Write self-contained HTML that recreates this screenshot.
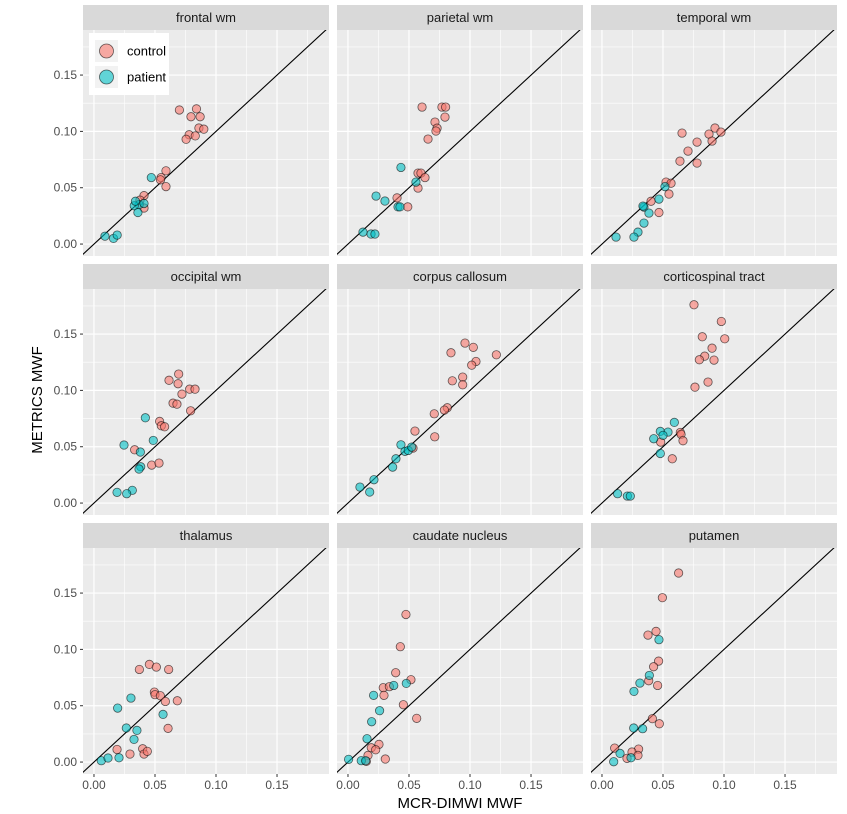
<!DOCTYPE html>
<html><head><meta charset="utf-8"><style>
html,body{margin:0;padding:0;background:#fff;}
svg{display:block;font-family:"Liberation Sans",Arial,sans-serif;}
</style></head><body>
<svg id="chart" width="847" height="814" viewBox="0 0 847 814" xmlns="http://www.w3.org/2000/svg">
<text x="460" y="808" text-anchor="middle" font-size="15" fill="#000">MCR-DIMWI MWF</text>
<text transform="translate(42,400) rotate(-90)" text-anchor="middle" font-size="15" fill="#000">METRICS MWF</text>
</svg>
<script>
const regions = ["frontal wm","parietal wm","temporal wm","occipital wm","corpus callosum","corticospinal tract","thalamus","caudate nucleus","putamen"];
const xTicks = [0,0.05,0.10,0.15];
const xTickLabels = ["0.00","0.05","0.10","0.15"];
const yTicks = [0,0.05,0.10,0.15];
const yTickLabels = ["0.00","0.05","0.10","0.15"];
const groups = ["control","patient"];
const controlX = [
[.070,.084,.0795,.087,.086,.090,.078,.0755,.083,.059,.055,.0545,.059,.041,.041,.0377],
[.0607,.077,.080,.0795,.0713,.073,.0721,.0656,.0574,.0598,.0631,.0574,.0402,.049],
[.0656,.0926,.0877,.0975,.0902,.0779,.0705,.0639,.0779,.0525,.0566,.0549,.0402,.0467],
[.0694,.0615,.0689,.0784,.0828,.0721,.0648,.068,.0792,.0538,.0552,.0579,.0333,.0473,.0533],
[.0959,.1027,.0844,.1216,.1049,.1014,.094,.0855,.094,.0814,.079,.0707,.0549,.0711,.0533],
[.0754,.0978,.0822,.1006,.0902,.0842,.0798,.0918,.0869,.0762,.0642,.0648,.0664,.0481,.0576],
[.0372,.0454,.0511,.0612,.0495,.05,.0544,.0585,.0683,.0607,.0189,.0295,.0399,.041,.0437],
[.0475,.0429,.0391,.0516,.0289,.0339,.0295,.0454,.0563,.0254,.0191,.0227,.0164,.0306,.015],
[.0628,.0495,.0443,.0377,.0464,.0423,.0383,.0456,.0413,.047,.0104,.03,.0246,.0205,.0295]
];
const controlY = [
[.119,.120,.113,.113,.103,.102,.097,.093,.096,.065,.059,.057,.051,.043,.032,.039],
[.1216,.1216,.1216,.1127,.1083,.1029,.1003,.0932,.063,.063,.059,.0497,.041,.033],
[.0985,.103,.0976,.0994,.0914,.0905,.0825,.0736,.0719,.055,.054,.0444,.038,.028],
[.1145,.109,.1059,.1011,.1011,.0967,.0887,.0878,.0819,.0725,.0686,.0677,.0473,.0337,.0355],
[.142,.1382,.1334,.1316,.1257,.1224,.1118,.1085,.105,.0846,.0825,.0792,.0639,.0588,.0488],
[.176,.1612,.1476,.1458,.1375,.1304,.1272,.1269,.1074,.1029,.0627,.061,.0553,.0541,.0393],
[.0822,.0867,.0843,.0822,.0621,.0598,.0589,.0538,.0544,.0299,.0112,.0071,.0118,.0071,.0095],
[.131,.1024,.0793,.0731,.066,.0669,.0592,.0509,.0388,.0157,.0127,.0109,.0059,.0027,.0006],
[.1678,.1459,.116,.1127,.0896,.0846,.0722,.068,.0385,.034,.0124,.0115,.0089,.0033,.0059]
];
const patientX = [
[.047,.037,.033,.036,.041,.034,.009,.016,.019],
[.0434,.023,.0303,.041,.0426,.0123,.0189,.0221,.0557],
[.0516,.0467,.0344,.0385,.0344,.0295,.0262,.0115,.0336],
[.0421,.0246,.0486,.038,.0383,.0369,.0314,.0189,.0268],
[.0434,.0467,.0494,.0522,.0393,.0366,.0213,.0098,.0178],
[.0593,.0478,.0541,.05,.0424,.0478,.0128,.0208,.0232],
[.0303,.0194,.0566,.0265,.0352,.0328,.006,.0115,.0205],
[.0375,.0478,.021,.0259,.0194,.0156,.0005,.0109,.0145],
[.0467,.0388,.0311,.0262,.026,.0333,.0148,.0238,.0096]
];
const patientY = [
[.059,.035,.034,.028,.036,.038,.007,.005,.008],
[.068,.0426,.0382,.033,.033,.0106,.0089,.0089,.055],
[.051,.0399,.0328,.0275,.0186,.0106,.0062,.0062,.0337],
[.0757,.0515,.0556,.0453,.0322,.0302,.0113,.0095,.0083],
[.0517,.0459,.0467,.0497,.0393,.0319,.0207,.0142,.0098],
[.0716,.0636,.063,.0601,.0571,.044,.0083,.0062,.0062],
[.0568,.0479,.0423,.0302,.0281,.0201,.0012,.0036,.0038],
[.068,.0698,.0592,.0456,.0358,.0207,.0024,.0012,.0012],
[.1086,.0769,.0701,.0627,.0302,.0296,.0077,.0038,.0003]
];

const NS="http://www.w3.org/2000/svg";
const svg=document.getElementById('chart');
const colLeft=[83,337,591], rowTop=[30,289,548], PW=246, PH=226, STRIP=25;
const xMin=-0.009,xMax=0.1926,yMin=-0.0106,yMax=0.19;
function mk(tag,attrs,parent){const e=document.createElementNS(NS,tag);for(const k in attrs)e.setAttribute(k,attrs[k]);(parent||svg).appendChild(e);return e;}
function sx(c,v){return colLeft[c]+(v-xMin)/(xMax-xMin)*PW;}
function sy(r,v){return rowTop[r]+PH-(v-yMin)/(yMax-yMin)*PH;}
const fills={control:"rgba(248,118,109,0.6)",patient:"rgba(0,191,196,0.6)"};

for(let i=0;i<9;i++){
  const r=Math.floor(i/3),c=i%3;
  const g=mk('g',{});
  
  
  const strip=mk('rect',{x:colLeft[c],y:rowTop[r]-STRIP,width:PW,height:STRIP,fill:"#d9d9d9"},g);
  
  
  const st=mk('text',{x:colLeft[c]+PW/2,y:rowTop[r]-8,'text-anchor':'middle','font-size':13,fill:'#1a1a1a'},g);
  st.textContent=regions[i];
  
  
  const bg=mk('rect',{x:colLeft[c],y:rowTop[r],width:PW,height:PH,fill:"#ebebeb"},g);
  
  
  const clipId='clip'+i;
  const cp=mk('clipPath',{id:clipId},g);mk('rect',{x:colLeft[c],y:rowTop[r],width:PW,height:PH},cp);
  // minor grids
  for(let k=0;k<xTicks.length;k++){
    const m=xTicks[k]+0.025;
    if(m<xMax) mk('line',{x1:sx(c,m),x2:sx(c,m),y1:rowTop[r],y2:rowTop[r]+PH,stroke:'#fff','stroke-width':0.6},g);
    const my=yTicks[k]+0.025;
    if(my<yMax) mk('line',{x1:colLeft[c],x2:colLeft[c]+PW,y1:sy(r,my),y2:sy(r,my),stroke:'#fff','stroke-width':0.6},g);
  }
  for(let k=0;k<xTicks.length;k++){
    const gx=mk('line',{x1:sx(c,xTicks[k]),x2:sx(c,xTicks[k]),y1:rowTop[r],y2:rowTop[r]+PH,stroke:'#fff','stroke-width':1.2},g);
    
    
    const gy=mk('line',{x1:colLeft[c],x2:colLeft[c]+PW,y1:sy(r,yTicks[k]),y2:sy(r,yTicks[k]),stroke:'#fff','stroke-width':1.2},g);
    
    
  }
  const id=mk('line',{x1:sx(c,-0.02),y1:sy(r,-0.02),x2:sx(c,0.25),y2:sy(r,0.25),stroke:'#000','stroke-width':1.1,'clip-path':'url(#'+clipId+')'},g);
  
  
  const sets=[[controlX[i],controlY[i],'control'],[patientX[i],patientY[i],'patient']];
  for(const [xs,ys,grp] of sets){
    for(let j=0;j<xs.length;j++){
      const p=mk('circle',{cx:sx(c,xs[j]),cy:sy(r,ys[j]),r:4.2,fill:fills[grp],stroke:'rgba(0,0,0,0.6)','stroke-width':0.8},g);
      
      
    }
  }
  if(c===0){
    for(let k=0;k<yTicks.length;k++){
      mk('line',{x1:colLeft[0]-3,x2:colLeft[0],y1:sy(r,yTicks[k]),y2:sy(r,yTicks[k]),stroke:'#333','stroke-width':1},g);
      const t=mk('text',{x:colLeft[0]-6,y:sy(r,yTicks[k])+4,'text-anchor':'end','font-size':12,fill:'#4d4d4d'},g);
      t.textContent=yTickLabels[k];
      
      
    }
  }
  if(r===2){
    for(let k=0;k<xTicks.length;k++){
      mk('line',{x1:sx(c,xTicks[k]),x2:sx(c,xTicks[k]),y1:rowTop[2]+PH,y2:rowTop[2]+PH+3,stroke:'#333','stroke-width':1},g);
      const t=mk('text',{x:sx(c,xTicks[k]),y:rowTop[2]+PH+15,'text-anchor':'middle','font-size':12,fill:'#4d4d4d'},g);
      t.textContent=xTickLabels[k];
      
      
    }
  }
}
// legend
const lg=mk('g',{});


mk('rect',{x:89,y:33,width:80,height:62,fill:'#fff'},lg);
for(let k=0;k<groups.length;k++){
  const cy=51+k*26;
  mk('rect',{x:95,y:cy-11,width:23,height:22,fill:'#f2f2f2'},lg);
  const e=mk('circle',{cx:106.5,cy:cy,r:7,fill:fills[groups[k]],stroke:'rgba(0,0,0,0.6)','stroke-width':0.8},lg);
  
  
  const t=mk('text',{x:127,y:cy+4.5,'font-size':13,fill:'#000'},lg);
  t.textContent=groups[k];
  
  
}
</script>
</body></html>
